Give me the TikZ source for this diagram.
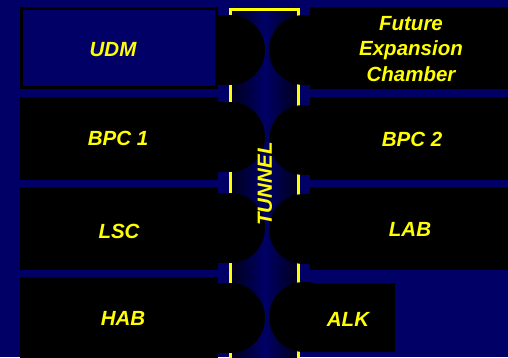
\documentclass[tikz,border=0pt]{standalone}
\usepackage{fontspec}
\setmainfont{Liberation Sans}
\definecolor{bg}{RGB}{0,0,102}
\definecolor{lbl}{RGB}{255,255,0}
\begin{document}
\begin{tikzpicture}[x=1pt,y=-1pt,
  room/.style={fill=black},
  rail/.style={draw=lbl, line width=3pt},
  lab/.style={text=lbl, font=\fontsize{20.5}{25.5}\selectfont\bfseries\itshape,
    align=center, inner sep=0pt}]
% background and page size
\fill[bg] (0,0) rectangle (508,357);
\useasboundingbox (0,0) rectangle (508,357);
% tunnel shaft with its yellow rails
\shade[left color=bg!25!black, right color=bg!25!black, middle color=bg]
  (230,9) rectangle (299,360);
\draw[rail] (230.5,362) -- (230.5,9.5) -- (298.5,9.5) -- (298.5,362);
% rounded ends of the chambers reaching into the tunnel
\foreach \cy in {50,137,228,318} {
  \fill[room] (218,\cy-35) rectangle (230,\cy+35);
  \fill[room] (230,\cy) circle[radius=35pt];
}
\foreach \cy in {50,140,229,317} {
  \fill[room] (304,\cy-35) rectangle (311,\cy+35);
  \fill[room] (304,\cy) circle[radius=35pt];
}
% chambers
\draw[black, line width=3pt, fill=bg] (21.5,8.5) rectangle (216.5,87.5);
\fill[room] (20,97) rectangle (218,180);
\fill[room] (20,187) rectangle (218,270);
\fill[room] (20,277) rectangle (218,362);
\fill[room] (310,7) rectangle (510,89);
\fill[room] (310,97) rectangle (510,180);
\fill[room] (310,187) rectangle (510,270);
\fill[room] (310,283) rectangle (395,352);
% labels
\node[lab] (udm) at (113,50) {UDM};
\node[lab] (bpc1) at (118,138) {BPC 1};
\node[lab] (lsc) at (119,231) {LSC};
\node[lab] (hab) at (123,318) {HAB};
\node[lab] (fec) at (411,49) {Future\\Expansion\\Chamber};
\node[lab] (bpc2) at (412,139.5) {BPC 2};
\node[lab] (labn) at (410,229) {LAB};
\node[lab] (alk) at (348,319) {ALK};
\node[lab, rotate=90] (tun) at (265,184) {TUNNEL};
\end{tikzpicture}
\end{document}
